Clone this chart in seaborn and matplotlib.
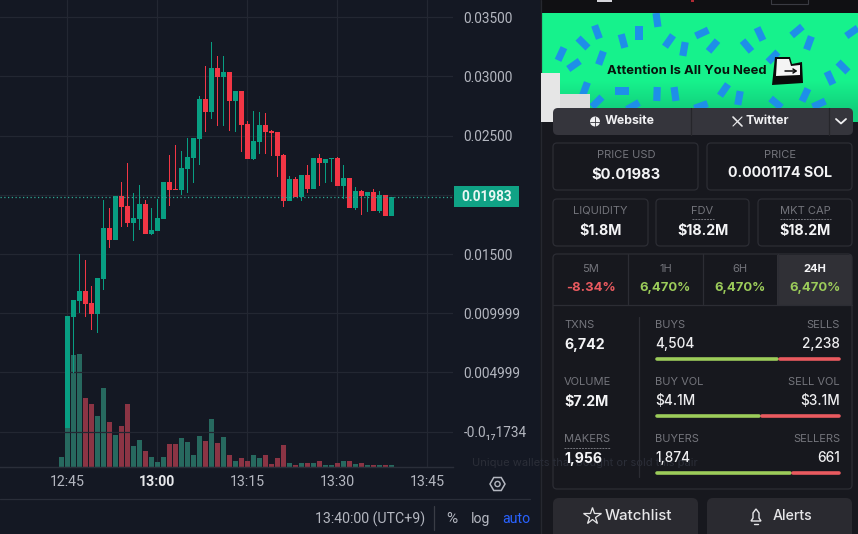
import numpy as np
import pandas as pd
import matplotlib
matplotlib.use("Agg")
import matplotlib.pyplot as plt
import seaborn as sns
from matplotlib.patches import Rectangle, FancyBboxPatch, Polygon, Circle, RegularPolygon

# ─────────────────────────────────────────────
# Data (one candle per minute, first one is 12:44)
# ─────────────────────────────────────────────
opens = [.00028, .00032, .00971, .01104, .01189, .01087, .00994, .01289, .01721, .01619,
         .01989, .01904, .01760, .01794, .01921, .01667, .01692, .01794, .02108, .02051,
         .02040, .02218, .02309, .02470, .02807, .02697, .03070, .02994, .03036, .02790,
         .02875, .02597, .02301, .02445, .02589, .02541, .02529, .02335, .01947, .02133,
         .01981, .02167, .02048, .02309, .02267, .02301, .02309, .02074, .02142, .01887,
         .02031, .01989, .02023, .01862, .01998, .01820]
highs = [.00032, .00977, .01113, .01501, .01450, .01226, .01297, .01955, .01885, .01989,
         .02108, .02272, .02014, .02085, .01955, .01887, .01964, .02108, .02332, .02422,
         .02371, .02476, .02479, .02833, .03087, .03285, .03171, .03171, .03036, .02875,
         .02875, .02623, .02710, .02699, .02693, .02546, .02529, .02343, .02159, .02153,
         .02167, .02250, .02309, .02343, .02301, .02309, .02320, .02250, .02142, .02063,
         .02040, .02023, .02046, .02034, .01998, .01983]
lows = [.00028, .00032, .00496, .01000, .00966, .00858, .00836, .01195, .01551, .01619,
        .01729, .01729, .01611, .01701, .01667, .01662, .01692, .01794, .01904, .02040,
        .01998, .02012, .02096, .02250, .02529, .02637, .02580, .02580, .02538, .02532,
        .02360, .02301, .02292, .02343, .02343, .02326, .02147, .01899, .01947, .01981,
        .01947, .02014, .02048, .02074, .02102, .02111, .02074, .01964, .01887, .01870,
        .01828, .01856, .01862, .01842, .01820, .01820]
closes = [.00032, .00977, .01113, .01189, .01079, .00994, .01297, .01721, .01619, .01989,
          .01896, .01760, .01803, .01921, .01667, .01701, .01803, .02108, .02040, .02040,
          .02226, .02318, .02479, .02807, .02697, .03070, .02994, .03036, .02790, .02875,
          .02589, .02301, .02453, .02589, .02529, .02521, .02326, .01947, .02133, .01981,
          .02167, .02048, .02309, .02267, .02301, .02309, .02074, .02142, .01887, .02031,
          .01989, .02023, .01862, .01998, .01820, .01983]
volumes = [10, 60, 112, 113, 69, 63, 51, 79, 45, 32, 41, 63, 21, 27, 16, 10, 5, 10, 23, 23,
           29, 25, 12, 31, 26, 48, 24, 30, 12, 6, 9, 6, 12, 9, 12, 3, 9, 22, 4, 2,
           4, 4, 4, 6, 2, 2, 4, 6, 6, 3, 4, 2, 2, 2, 2, 2]

price_ticks = [0.035, 0.03, 0.025, 0.02, 0.015, 0.01, 0.005, 0.0]
price_labels = ["0.03500", "0.03000", "0.02500", "", "0.01500", "0.009999", "0.004999", "-0.0₁₇1734"]
time_ticks = [45, 60, 75, 90, 105]
time_labels = ["12:45", "13:00", "13:15", "13:30", "13:45"]
last_price = 0.01983

BG = "#141823"
GRID = "#232732"
UP = "#089e82"
DOWN = "#f23645"
VOL_UP = "#27695f"
VOL_DOWN = "#8b3444"
AXIS_TEXT = "#b4b7c0"
PANEL = "#17181e"
EDGE = "#2c2d34"
MUTED = "#74757c"
GOOD = "#9ccc5a"
BAD = "#ea5a5f"

sns.set_theme(style="dark", rc={"axes.facecolor": BG, "figure.facecolor": BG, "patch.edgecolor": "none"})
plt.rcParams["font.family"] = ["Roboto", "DejaVu Sans"]

W, H = 858, 534
fig = plt.figure(figsize=(W / 100, H / 100), dpi=100)


# ─────────────────────────────────────────────
# 1. Price and volume axes
# ─────────────────────────────────────────────
minutes = np.arange(44, 44 + len(opens))
is_up = np.array(closes) >= np.array(opens)

ax_box = [0, (H - 467) / H, 453 / W, 467 / H]
ax_vol = fig.add_axes(ax_box, zorder=1)
ax_price = ax_vol.twinx()
ax_price.set_zorder(2)
ax_price.patch.set_visible(False)

vol_df = pd.DataFrame({
    "minute": minutes,
    "volume": volumes,
    "side": np.where(is_up, "buy", "sell"),
})
sns.barplot(
    data=vol_df, x="minute", y="volume", hue="side",
    palette={"buy": VOL_UP, "sell": VOL_DOWN},
    native_scale=True, dodge=False, errorbar=None, saturation=1,
    width=0.84, linewidth=0, legend=False, ax=ax_vol,
)
ax_vol.set_ylim(0, 467)
ax_vol.set_yticks([])
ax_vol.set_xlabel("")
ax_vol.set_ylabel("")

# candles, wicks as one pixel wide bars so they stay crisp
candle_colors = [UP if u else DOWN for u in is_up]
ax_price.bar(
    minutes,
    np.array(highs) - np.array(lows),
    bottom=lows,
    width=0.17, color=candle_colors, linewidth=0, zorder=3,
)
ax_price.bar(
    minutes,
    np.abs(np.array(closes) - np.array(opens)),
    bottom=np.minimum(opens, closes),
    width=0.84, color=candle_colors, linewidth=0, zorder=4,
)
ax_price.axhline(last_price, color="#2fa894", linewidth=0.9, linestyle=(0, (1, 2)), zorder=5)

ax_price.set_ylim(-0.002975, 0.036435)
ax_price.set_xlim(33.83, 109.33)
ax_price.set_yticks(price_ticks, price_labels)
ax_price.tick_params(axis="y", length=0, pad=7.5, labelsize=9.8, labelcolor=AXIS_TEXT, right=False)
ax_price.grid(True, axis="y", color=GRID, linewidth=0.9)
ax_price.grid(False, axis="x")

ax_vol.set_xticks(time_ticks, time_labels)
ax_vol.set_xlim(33.83, 109.33)
ax_vol.tick_params(axis="x", length=0, pad=6, labelsize=10.2, labelcolor=AXIS_TEXT)
ax_vol.get_xticklabels()[1].set_fontweight("bold")
ax_vol.get_xticklabels()[1].set_color("#e6e7ea")
ax_vol.grid(True, axis="x", color=GRID, linewidth=0.9)
ax_vol.grid(False, axis="y")
ax_vol.set_axisbelow(True)

for a in (ax_vol, ax_price):
    for name, spine in a.spines.items():
        spine.set_visible(name == "bottom")
        spine.set_color("#2a2e39")
        spine.set_linewidth(0.9)


# ─────────────────────────────────────────────
# 2. Overlay in pixel coordinates: chart footer and token panel
# ─────────────────────────────────────────────
ui = fig.add_axes([0, 0, 1, 1], zorder=5)
ui.patch.set_visible(False)
ui.axis("off")

PANEL_FONT = ["Inter", "DejaVu Sans"]
CHART_FONT = ["Roboto", "DejaVu Sans"]


def rounded(x0, y0, x1, y1, face, edge="none", r=4, lw=0.9, z=2):
    patch = FancyBboxPatch(
        (x0 + r, y0 + r), x1 - x0 - 2 * r, y1 - y0 - 2 * r,
        boxstyle=f"round,pad={r}", facecolor=face, edgecolor=edge, linewidth=lw, zorder=z,
    )
    ui.add_patch(patch)
    return patch


def label(x, y, s, size=8.2, color=MUTED, weight="normal", ha="center", family=None, z=6):
    ui.text(x, y, s, fontsize=size, color=color, fontweight=weight, ha=ha, va="center",
            family=family or PANEL_FONT, zorder=z)


def line(xs, ys, color=EDGE, lw=0.9, ls="-", z=3):
    ui.plot(xs, ys, color=color, linewidth=lw, linestyle=ls, zorder=z, solid_capstyle="round")


# price tag
ui.add_patch(Rectangle((454, 186), 65, 21, facecolor="#10a285", edgecolor="none", zorder=4))
label(487, 197, f"{last_price:.5f}", size=9.8, color="#e9f7f3", weight="bold", family=CHART_FONT)

# chart footer
line([0, 530], [499, 499], color="#2a2e39")
line([434, 434], [506, 530], color="#3a3d46")
label(370, 519, "13:40:00 (UTC+9)", size=10.2, color=AXIS_TEXT, family=CHART_FONT)
label(452, 519, "%", size=11, color=AXIS_TEXT, family=CHART_FONT)
label(481, 519, "log", size=10.2, color=AXIS_TEXT, family=CHART_FONT)
label(516, 519, "auto", size=10.2, color="#2962ff", family=CHART_FONT)
ui.add_patch(RegularPolygon((497.5, 484), 6, radius=7.5, orientation=np.pi / 2, fill=False, edgecolor=AXIS_TEXT, linewidth=1.1, zorder=4))
ui.add_patch(Circle((497.5, 484), 2.6, fill=False, edgecolor=AXIS_TEXT, linewidth=1.0, zorder=4))

# token panel background
ui.add_patch(Rectangle((540, 0), 318, 534, facecolor=PANEL, edgecolor="none", zorder=1))
line([540.5, 540.5], [0, 534], color="#26282f", z=1.5)
ui.add_patch(Rectangle((541, 0), 317, 13, facecolor="#101013", edgecolor="none", zorder=1.2))
ui.add_patch(Rectangle((597, 0), 15, 2, facecolor="#d5d5da", edgecolor="none", zorder=1.3))
ui.add_patch(Rectangle((691, 0), 3, 2, facecolor="#b02a33", edgecolor="none", zorder=1.3))
ui.add_patch(Rectangle((771, -2), 37, 6, facecolor="none", edgecolor="#3a3b42", linewidth=0.8, zorder=1.3))

# banner
green = np.array([[[0.09, 0.95, 0.55]], [[0.09, 0.95, 0.55]], [[0.09, 0.95, 0.55]], [[0.07, 0.82, 0.49]]])
banner_img = ui.imshow(green, extent=(541, 858, 122, 13), aspect="auto", zorder=1.4, interpolation="bilinear")
ui.add_patch(Rectangle((541, 73), 19, 49, facecolor="#e6e6e6", edgecolor="none", zorder=1.6))
ui.add_patch(Rectangle((560, 94), 30, 28, facecolor="#dcdcdc", edgecolor="none", zorder=1.6))
ui.set_xlim(0, W)
ui.set_ylim(H, 0)

confetti_x = [657, 597, 583, 561, 574, 601, 623, 639, 669, 684, 702, 713, 747, 760, 797, 809, 852,
              773, 843, 830, 585, 622, 657, 675, 724, 739, 805, 776, 597, 633, 701, 819]
confetti_y = [20, 32, 43, 54, 65, 58, 41, 33, 41, 49, 33, 46, 46, 34, 31, 43, 32,
              57, 67, 78, 89, 91, 94, 94, 90, 98, 95, 103, 102, 106, 106, 104]
confetti_rot = [-8, -20, -45, 25, 55, 20, -15, 0, 35, 10, 65, 40, -40, -25, 50, 20, 55,
                45, -45, -25, 20, 90, 2, -8, 35, 10, 25, -50, 45, 60, 70, 65]
banner_clip = Rectangle((541, 13), 317, 109, transform=ui.transData)
for cx, cy, rot in zip(confetti_x, confetti_y, confetti_rot):
    t = np.radians(rot)
    ux, uy = np.sin(t), -np.cos(t)
    vx, vy = np.cos(t), np.sin(t)
    pts = [(cx + sa * 7 * ux + sb * 3.6 * vx, cy + sa * 7 * uy + sb * 3.6 * vy)
           for sa, sb in [(-1, -1), (-1, 1), (1, 1), (1, -1)]]
    piece = Polygon(pts, facecolor="#1e8fe8", edgecolor="none", zorder=1.5)
    ui.add_patch(piece)
    piece.set_clip_path(banner_clip)

label(687, 71, "Attention Is All You Need", size=9.4, color="#08140d", weight="bold")
ui.add_patch(Polygon([(772, 85), (775, 57), (790, 57), (792, 64), (802, 62), (803, 83)], facecolor="#0a0a0a", edgecolor="none", zorder=5))
ui.add_patch(Polygon([(777, 59), (789, 59), (791, 66), (800, 65), (800, 75), (776, 76)], facecolor="#f4f4f4", edgecolor="none", zorder=5.2))
line([785, 796], [71, 71], color="#0a0a0a", lw=1.1, z=5.4)
line([793, 796, 793], [69, 71, 73], color="#0a0a0a", lw=1.1, z=5.4)

# link buttons
rounded(553, 108, 853, 135, "#35353c", r=5)
line([690.5, 690.5], [108, 135], color="#26262b")
line([828.5, 828.5], [108, 135], color="#26262b")
ui.add_patch(Circle((595, 121.5), 5, facecolor="#f0f0f2", edgecolor="none", zorder=4))
line([590, 600], [121.5, 121.5], color="#35353c", lw=0.6, z=5)
line([595, 595], [116.5, 126.5], color="#35353c", lw=0.6, z=5)
label(629.5, 120.5, "Website", size=8.9, color="#f0f0f2", weight="bold")
line([733, 742], [117, 126], color="#e8e8ea", lw=1.2, z=5)
line([742, 733], [117, 126], color="#e8e8ea", lw=0.8, z=5)
label(767, 120.5, "Twitter", size=8.9, color="#f0f0f2", weight="bold")
line([836, 841, 846], [119, 123.5, 119], color="#f0f0f2", lw=1.3, z=5)

# price boxes
rounded(553, 143, 698, 190, "none", EDGE)
rounded(707, 143, 852, 190, "none", EDGE)
label(626, 155, "PRICE USD", size=8)
label(626, 174.5, "$0.01983", size=10.6, color="#f4f4f6", weight="bold")
label(780, 155, "PRICE", size=8)
label(780, 173, "0.0001174 SOL", size=10.2, color="#f4f4f6", weight="bold")

small_names = ["LIQUIDITY", "FDV", "MKT CAP"]
small_values = ["$1.8M", "$18.2M", "$18.2M"]
small_edges = [(553, 648), (656, 749), (758, 852)]
for name, value, (x0, x1) in zip(small_names, small_values, small_edges):
    mid = (x0 + x1) / 2
    rounded(x0, 199, x1, 246, "none", EDGE)
    label(mid, 211, name, size=8)
    label(mid, 231, value, size=10.2, color="#f4f4f6", weight="bold")
line([692, 714], [219, 219], color=MUTED, lw=0.7, ls=(0, (2, 1)))
line([780, 831], [219, 219], color=MUTED, lw=0.7, ls=(0, (2, 1)))

# change tabs
rounded(553, 254, 852, 489, "none", EDGE)
ui.add_patch(Rectangle((777, 254.5), 74.5, 50, facecolor="#303036", edgecolor="none", zorder=1.8))
line([553, 852], [304.5, 304.5])
tab_names = ["5M", "1H", "6H", "24H"]
tab_values = ["-8.34%", "6,470%", "6,470%", "6,470%"]
tab_mids = [590.5, 665.5, 740, 815]
tab_colors = [BAD, GOOD, GOOD, GOOD]
for i, (name, value, mid, col) in enumerate(zip(tab_names, tab_values, tab_mids, tab_colors)):
    active = name == "24H"
    label(mid, 269, name, size=8, color="#f4f4f6" if active else MUTED, weight="bold" if active else "normal")
    label(mid, 288, value, size=9.4, color=col, weight="bold")
    if i < 3:
        line([mid + 37.5, mid + 37.5], [254, 304])

# left column stats
stat_names = ["TXNS", "VOLUME", "MAKERS"]
stat_values = ["6,742", "$7.2M", "1,956"]
stat_y = [325, 382, 439]
for name, value, y in zip(stat_names, stat_values, stat_y):
    label(564, y, name, size=8, ha="left")
    label(564, y + 20, value, size=10.2, color="#f4f4f6", weight="bold", ha="left")
line([564, 610], [447.5, 447.5], color=MUTED, lw=0.7, ls=(0, (2, 1)))
line([638.5, 638.5], [317, 477])

# buy / sell rows
buy_names = ["BUYS", "BUY VOL", "BUYERS"]
sell_names = ["SELLS", "SELL VOL", "SELLERS"]
buy_values = ["4,504", "$4.1M", "1,874"]
sell_values = ["2,238", "$3.1M", "661"]
buy_share = [4504 / 6742, 4.1 / 7.2, 1874 / (1874 + 661)]
for i, y in enumerate(stat_y):
    label(655, y, buy_names[i], size=8, ha="left")
    label(840, y, sell_names[i], size=8, ha="right")
    label(655, y + 19, buy_values[i], size=9.8, color="#eeeef0", weight=500, ha="left")
    label(840, y + 19, sell_values[i], size=9.8, color="#eeeef0", weight=500, ha="right")
    split = 655 + 185 * buy_share[i]
    line([656.5, split - 1.5], [y + 34, y + 34], color=GOOD, lw=2.6)
    line([split + 1.5, 838.5], [y + 34, y + 34], color=BAD, lw=2.6)

# bottom buttons
rounded(553, 498, 698, 540, "#2a2a30", r=6)
rounded(707, 498, 852, 540, "#2a2a30", r=6)
ui.plot([592], [516], marker="*", markersize=13, markerfacecolor="none", markeredgecolor="#e6e6e8", markeredgewidth=0.9, zorder=5)
label(638.5, 516, "Watchlist", size=10.8, color="#e6e6e8", weight=500)
ui.add_patch(Polygon([(751, 521), (753, 518), (753, 513), (756, 509), (759, 513), (759, 518), (761, 521)], fill=False, edgecolor="#e6e6e8", linewidth=1.0, zorder=5))
line([754, 758], [524, 524], color="#e6e6e8", lw=1.0, z=5)
label(792, 516, "Alerts", size=10.2, color="#e6e6e8", weight=500)

# faint tooltip left behind in the screenshot
label(472, 463, "Unique wallets that bought or sold this pair", size=8, color="#2b2e38", ha="left", z=3)

fig.savefig("out.png", dpi=100, facecolor=BG)
